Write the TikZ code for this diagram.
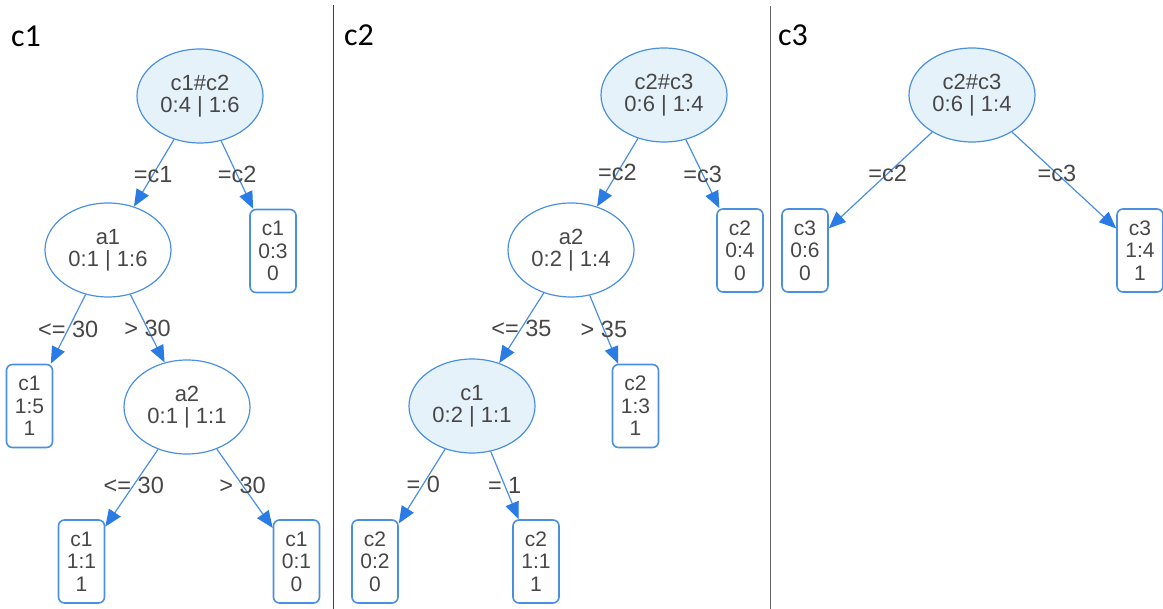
\documentclass[tikz,border=0pt]{standalone}
\usepackage{fontspec}
\setmainfont{Liberation Sans}
\newfontfamily\titlefont{Carlito}
\usetikzlibrary{shapes.geometric,arrows.meta}
\definecolor{edgeblue}{HTML}{4A8FE7}
\definecolor{tipblue}{HTML}{2B7BE4}
\definecolor{borderblue}{HTML}{4A90E2}
\definecolor{fillblue}{HTML}{E6F2FA}
\definecolor{txt}{HTML}{474747}
\tikzset{
  split/.style={ellipse, draw=borderblue, line width=1.2pt, minimum width=126pt, minimum height=94pt, inner sep=0pt, align=center, text=txt, font=\fontsize{22}{22}\selectfont},
  splitf/.style={split, fill=fillblue},
  leaf/.style={rectangle, rounded corners=6pt, draw=borderblue, line width=1.6pt, minimum width=46pt, minimum height=83pt, inner sep=0pt, align=center, text=txt, font=\fontsize{21}{22.5}\selectfont},
  conn/.style={draw=edgeblue, line width=1.2pt, -{Triangle[length=17pt,width=14pt,fill=tipblue,color=tipblue]}},
  lbl/.style={text=txt, font=\fontsize{23.5}{24}\selectfont, inner sep=0pt, pos=0.5},
  ttl/.style={anchor=base west, font=\titlefont\fontsize{32}{34}\selectfont, text=black, inner sep=0pt},
  divider/.style={draw=black!75, line width=1.3pt}
}
\begin{document}
\begin{tikzpicture}[x=1pt,y=-1pt]
\useasboundingbox (0,0) rectangle (1163,609);
% dividers
\coordinate (d1t) at (333.5,5);
\coordinate (d1b) at (333.5,609);
\coordinate (d2t) at (770.5,6);
\coordinate (d2b) at (770.5,609);
\draw[divider] (d1t) -- (d1b);
\draw[divider, draw=black!60] (d2t) -- (d2b);
% titles
\node[ttl] (t1) at (11,47) {c1};
\node[ttl] (t2) at (344,46) {c2};
\node[ttl] (t3) at (778,46) {c3};

% ---------- panel 1 ----------
\node[splitf] (p1r) at (200,96) {c1\#c2\\0:4 | 1:6};
\node[split] (p1a1) at (108,250) {a1\\0:1 | 1:6};
\node[leaf] (p1l1) at (273,251) {c1\\0:3\\0};
\node[leaf] (p1l2) at (29.5,406) {c1\\1:5\\1};
\node[split] (p1a2) at (187,407) {a2\\0:1 | 1:1};
\node[leaf] (p1l3) at (81.5,561.5) {c1\\1:1\\1};
\node[leaf] (p1l4) at (296.5,561.5) {c1\\0:1\\0};
\draw[conn] (p1r) -- node[lbl, pos=0.52]{=c1} (p1a1);
\draw[conn] (p1r) -- node[lbl]{=c2} (p1l1);
\draw[conn] (p1a1) -- node[lbl]{<= 30} (p1l2);
\draw[conn] (p1a1) -- node[lbl]{> 30} (p1a2);
\draw[conn] (p1a2) -- node[lbl, pos=0.46]{<= 30} (p1l3);
\draw[conn] (p1a2) -- node[lbl, pos=0.46]{> 30} (p1l4);

% ---------- panel 2 ----------
\node[splitf] (p2r) at (664,95) {c2\#c3\\0:6 | 1:4};
\node[split] (p2a2) at (571,250) {a2\\0:2 | 1:4};
\node[leaf] (p2l1) at (740,250.5) {c2\\0:4\\0};
\node[splitf] (p2c1) at (472,406) {c1\\0:2 | 1:1};
\node[leaf] (p2l2) at (635.5,406) {c2\\1:3\\1};
\node[leaf] (p2l3) at (375,561.5) {c2\\0:2\\0};
\node[leaf] (p2l4) at (536,561.5) {c2\\1:1\\1};
\draw[conn] (p2r) -- node[lbl]{=c2} (p2a2);
\draw[conn] (p2r) -- node[lbl]{=c3} (p2l1);
\draw[conn] (p2a2) -- node[lbl]{<= 35} (p2c1);
\draw[conn] (p2a2) -- node[lbl]{> 35} (p2l2);
\draw[conn] (p2c1) -- node[lbl, pos=0.47]{= 0} (p2l3);
\draw[conn] (p2c1) -- node[lbl]{= 1} (p2l4);

% ---------- panel 3 ----------
\node[splitf] (p3r) at (972,95) {c2\#c3\\0:6 | 1:4};
\node[leaf] (p3l1) at (805,250.5) {c3\\0:6\\0};
\node[leaf] (p3l2) at (1140,250.5) {c3\\1:4\\1};
\draw[conn] (p3r) -- node[lbl, pos=0.43]{=c2} (p3l1);
\draw[conn] (p3r) -- node[lbl, pos=0.43]{=c3} (p3l2);
\end{tikzpicture}
\end{document}
